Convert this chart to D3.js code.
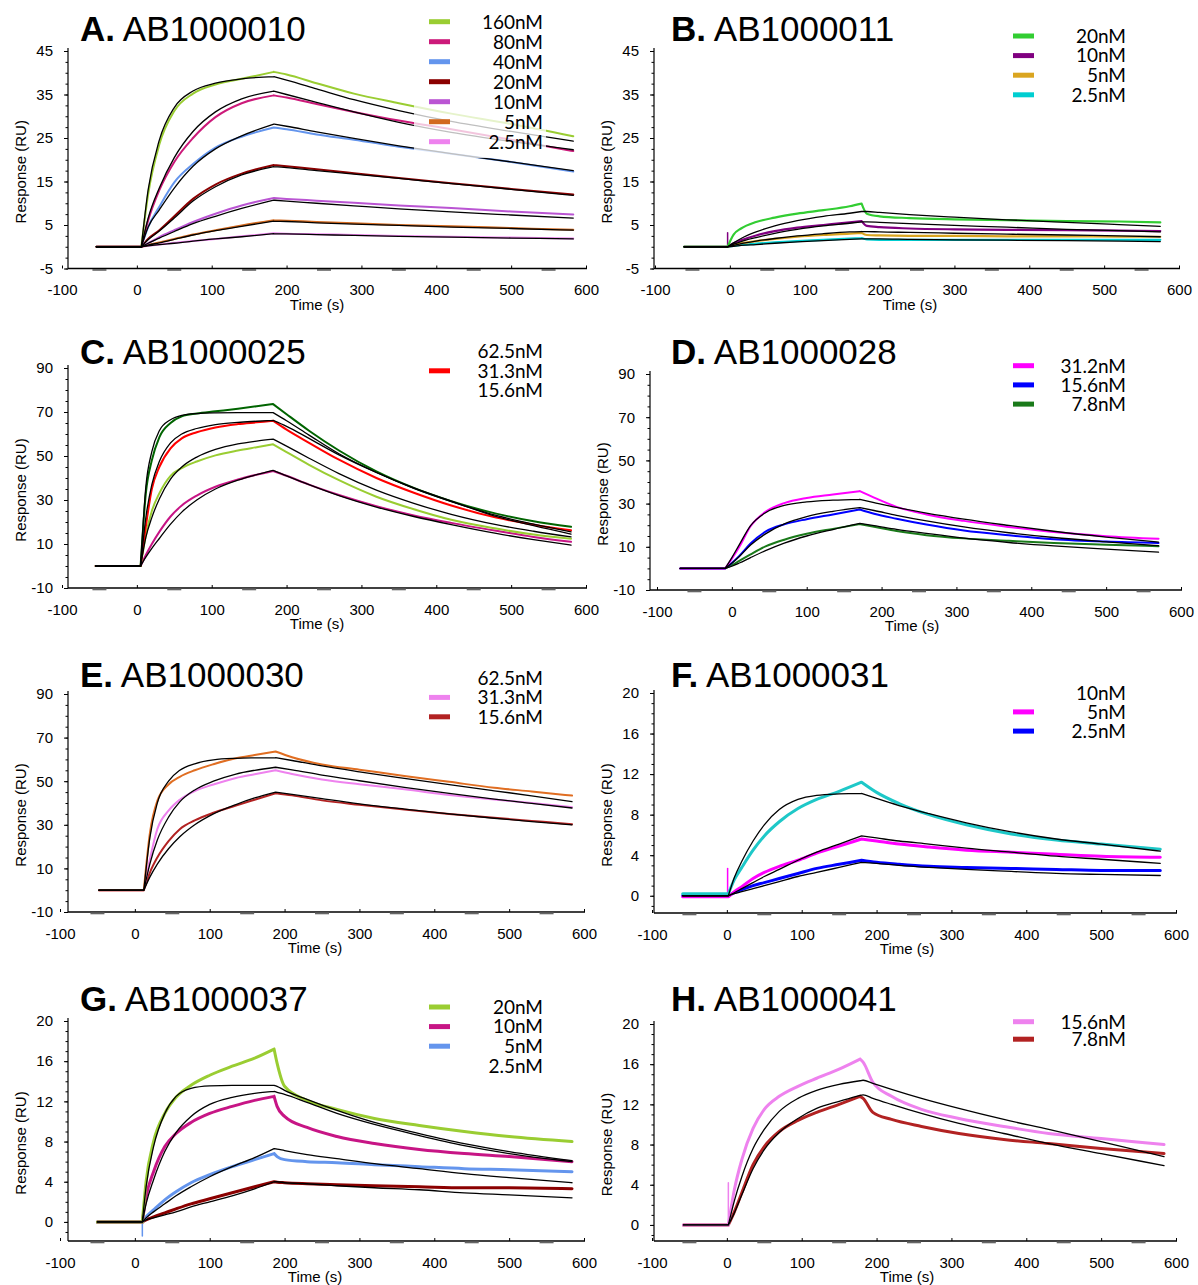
<!DOCTYPE html>
<html>
<head>
<meta charset="utf-8">
<script src="https://cdn.jsdelivr.net/npm/d3@7"></script>
<style>
  body { margin: 0; background: #fff; }
  svg { display: block; }
</style>
</head>
<body>
<svg id="chart" width="1198" height="1285"></svg>
<script>
// ---------- data ----------
var xTicks = [-100, 0, 100, 200, 300, 400, 500, 600];
var yTicks45 = [-5, 5, 15, 25, 35, 45];
var yTicks90 = [-10, 10, 30, 50, 70, 90];
var yTicks20 = [0, 4, 8, 12, 16, 20];

// A. AB1000010
var timesA = [-54, 6, 15, 30, 50, 75, 105, 140, 183, 200, 240, 290, 350, 420, 500, 583];
var a160    = [0, 0, 12, 23.5, 31.2, 35.2, 37.3, 38.6, 40.2, 39.6, 37.6, 35.2, 33.0, 30.6, 28.2, 25.4];
var a160Fit = [0, 0, 13, 24.5, 32, 35.8, 37.6, 38.6, 39.1, 38.3, 36.3, 33.8, 31.3, 28.8, 26.5, 24.3];
var a80     = [0, 0, 6, 13, 19.5, 25, 29.8, 33, 34.8, 34.3, 32.8, 31, 29, 27, 24.6, 22];
var a80Fit  = [0, 0, 6.5, 13.5, 20.5, 26.5, 31, 34, 35.8, 35, 33.2, 31, 28.6, 26.3, 24.2, 22.3];
var a40     = [0, 0, 4.5, 9.2, 14.8, 19, 22.8, 25.3, 27.4, 27, 25.8, 24.6, 23, 21.4, 19.5, 17.3];
var a40Fit  = [0, 0, 4.5, 8.5, 13.5, 18.5, 22.5, 25.5, 28.2, 27.7, 26.4, 24.9, 23.2, 21.4, 19.5, 17.5];
var a20     = [0, 0, 1.8, 3.8, 7, 11, 14.3, 16.8, 18.8, 18.5, 17.8, 16.9, 15.8, 14.6, 13.3, 12.0];
var a20Fit  = [0, 0, 1.6, 3.6, 6.6, 10.5, 13.8, 16.5, 18.4, 18.2, 17.5, 16.7, 15.7, 14.5, 13.2, 11.8];
var a10     = [0, 0, 0.8, 2.2, 3.8, 5.7, 7.6, 9.5, 11.2, 11, 10.6, 10.1, 9.5, 8.9, 8.1, 7.4];
var a10Fit  = [0, 0, 0.8, 2.0, 3.5, 5.3, 7.0, 8.8, 10.7, 10.5, 10.0, 9.4, 8.7, 8.0, 7.3, 6.6];
var a5      = [0, 0, 0.4, 1.0, 1.8, 2.8, 3.8, 4.9, 6.1, 6.0, 5.7, 5.4, 5.0, 4.7, 4.3, 3.9];
var a5Fit   = [0, 0, 0.4, 0.9, 1.7, 2.7, 3.7, 4.7, 5.9, 5.8, 5.5, 5.2, 4.9, 4.5, 4.2, 3.8];
var a2_5    = [0, 0, 0.2, 0.5, 0.9, 1.3, 1.8, 2.4, 3.1, 3.0, 2.9, 2.7, 2.5, 2.3, 2.1, 1.9];
var a2_5Fit = [0, 0, 0.2, 0.5, 0.8, 1.3, 1.8, 2.3, 3.0, 2.95, 2.8, 2.6, 2.4, 2.2, 2.0, 1.8];
var legendA = ['160nM', '80nM', '40nM', '20nM', '10nM', '5nM', '2.5nM'];

// B. AB1000011
var timesB = [-61, -3, 5, 15, 35, 60, 90, 125, 160, 176, 183, 200, 240, 300, 370, 450, 520, 575];
var b20     = [0, 0, 2.8, 4.2, 5.7, 6.7, 7.6, 8.4, 9.3, 9.9, 7.6, 7.0, 6.6, 6.3, 6.1, 5.9, 5.8, 5.6];
var b20Fit  = [0, 0, 0.9, 1.9, 3.4, 4.8, 6.0, 7.0, 7.7, 8.1, 8.1, 7.9, 7.4, 6.8, 6.2, 5.6, 5.1, 4.7];
var b10     = [0, 0, 0.8, 1.5, 2.6, 3.6, 4.4, 5.0, 5.6, 5.9, 4.8, 4.5, 4.2, 4.0, 3.9, 3.8, 3.7, 3.6];
var b10Fit  = [0, 0, 0.6, 1.2, 2.1, 3.1, 4.0, 4.8, 5.4, 5.7, 5.7, 5.6, 5.3, 4.9, 4.5, 4.0, 3.7, 3.4];
var b5      = [0, 0, 0.4, 0.8, 1.3, 1.8, 2.3, 2.7, 3.0, 3.2, 2.7, 2.6, 2.5, 2.5, 2.4, 2.4, 2.3, 2.3];
var b5Fit   = [0, 0, 0.3, 0.7, 1.3, 1.9, 2.5, 3.0, 3.4, 3.5, 3.5, 3.4, 3.3, 3.1, 2.9, 2.7, 2.5, 2.3];
var b2_5    = [0, 0, 0.2, 0.4, 0.7, 1.0, 1.3, 1.6, 1.9, 2.0, 1.7, 1.6, 1.6, 1.6, 1.6, 1.6, 1.6, 1.6];
var b2_5Fit = [0, 0, 0.1, 0.3, 0.5, 0.8, 1.1, 1.4, 1.7, 1.8, 1.8, 1.8, 1.7, 1.6, 1.5, 1.4, 1.3, 1.2];
var legendB = ['20nM', '10nM', '5nM', '2.5nM'];

// C. AB1000025
var timesC = [-55, 5, 12, 20, 30, 45, 60, 80, 105, 135, 160, 182, 200, 230, 270, 320, 370, 420, 480, 530, 580];
var c62    = [0, 0, 33, 48, 58.5, 65, 68, 69.3, 70.3, 71.5, 72.6, 73.6, 69, 61.5, 52.5, 43, 35.5, 29.5, 23.8, 20.3, 17.8];
var c62Fit = [0, 0, 36, 52, 61.5, 66.5, 68.5, 69.3, 69.6, 69.7, 69.7, 69.7, 66, 59.5, 51, 42.5, 35.3, 29.3, 23, 19, 15.5];
var c31    = [0, 0, 18, 35, 45, 53.5, 58, 60.8, 63, 64.5, 65.3, 66, 62, 56, 48.3, 40, 33.3, 27.5, 22, 18.8, 16.2];
var c31Fit = [0, 0, 22, 37, 47.5, 56, 60, 62.5, 64.3, 65.3, 65.8, 66.2, 63.5, 58, 50.5, 42.5, 35.5, 29.5, 22.5, 18.3, 14.5];
var c15    = [0, 0, 14, 25, 33, 41, 44.5, 47.5, 50.3, 52.5, 54, 55.3, 51.8, 46, 39, 31.5, 25.8, 21, 17, 14.3, 12.4];
var c15Fit = [0, 0, 13, 22, 30.5, 39.5, 45, 49.5, 53, 55.5, 56.8, 57.7, 54.5, 49, 42, 34.5, 28.5, 23.5, 18.8, 15.8, 13.2];
var c7     = [0, 0, 5, 10, 15.5, 22.5, 27.5, 32, 36, 39.3, 41.5, 43.2, 41, 37, 32.3, 27.2, 23, 19.6, 16, 13.2, 11];
var c7Fit  = [0, 0, 4, 8, 12.5, 19, 24.5, 30, 35, 39, 41.5, 43.5, 41, 37, 32, 26.8, 22.5, 18.8, 14.8, 12, 9.5];
var legendC = ['62.5nM', '31.3nM', '15.6nM'];

// D. AB1000028
var timesD = [-69, -9, 0, 10, 25, 45, 70, 100, 135, 171, 190, 220, 260, 310, 370, 430, 500, 570];
var d31    = [0, 0, 4.5, 10, 19.5, 26.2, 30.2, 32.6, 34.2, 35.8, 32.8, 28.5, 25, 22, 19.2, 16.8, 14.9, 13.7];
var d31Fit = [0, 0, 5, 11, 19.8, 25.8, 29.2, 30.8, 31.6, 32, 30.5, 28.2, 25.6, 22.8, 19.9, 17.2, 14.5, 12.2];
var d15    = [0, 0, 2.5, 5.8, 11.5, 17, 20.4, 22.8, 25, 27.3, 25.3, 23, 20.3, 17.5, 15.3, 13.5, 12.4, 11.8];
var d15Fit = [0, 0, 2.4, 5.5, 10.8, 16, 20.6, 24, 26.4, 28.1, 26.8, 24.6, 22, 19.2, 16.5, 14.3, 12.3, 10.5];
var d7     = [0, 0, 1.5, 3.5, 6.5, 10.2, 13.3, 16, 18.3, 20.5, 19.3, 17.3, 15.4, 13.9, 12.8, 11.8, 11, 10.3];
var d7Fit  = [0, 0, 1, 2.5, 5, 8.2, 11.7, 15, 18, 20.8, 19.8, 18.1, 16.2, 14, 12, 10.4, 8.9, 7.5];
var legendD = ['31.2nM', '15.6nM', '7.8nM'];

// E. AB1000030
var timesE = [-48, 12, 20, 30, 45, 60, 80, 105, 135, 160, 188, 210, 250, 300, 360, 420, 480, 530, 584];
var e62    = [0, 0, 26, 41, 48.5, 52, 55, 57.8, 60.5, 62, 63.6, 61, 57.7, 55.3, 52.4, 49.7, 47, 45.3, 43.4];
var e62Fit = [0, 0, 24, 40, 50, 55, 58, 59.8, 60.5, 60.7, 60.8, 59.5, 57, 54.3, 51.3, 48.4, 45.6, 43.3, 40.6];
var e31    = [0, 0, 14, 28, 36.5, 41.5, 45.5, 48.5, 51.5, 53.2, 55, 53.3, 50.8, 48.6, 46.3, 43.7, 41.6, 40, 38.1];
var e31Fit = [0, 0, 12, 23, 33.5, 40.5, 46, 50, 53.3, 55, 56.4, 55.2, 52.8, 50.2, 47.2, 44.4, 41.8, 39.8, 37.7];
var e15    = [0, 0, 8, 15, 22.5, 28, 32, 35.5, 38.8, 41.5, 44.5, 43.5, 41.2, 39.2, 37, 35, 33.2, 31.8, 30.3];
var e15Fit = [0, 0, 6, 12, 19, 24.5, 30, 35, 39.3, 42.3, 45, 44, 42, 39.6, 37.2, 35, 33, 31.5, 30];
var legendE = ['62.5nM', '31.3nM', '15.6nM'];

// F. AB1000031
var timesF = [-59, 2, 10, 20, 35, 50, 70, 95, 120, 150, 180, 200, 230, 270, 320, 380, 440, 500, 579];
var f10     = [0.2, 0.2, 1.6, 2.8, 4.5, 5.9, 7.3, 8.6, 9.5, 10.3, 11.2, 10.2, 9.1, 8.0, 7.0, 6.1, 5.5, 5.1, 4.6];
var f10Fit  = [0, 0, 1.8, 3.4, 5.4, 7.0, 8.5, 9.5, 9.9, 10.05, 10.1, 9.6, 8.9, 8.1, 7.2, 6.3, 5.6, 5.1, 4.4];
var f5      = [-0.1, -0.1, 0.4, 0.9, 1.7, 2.3, 2.9, 3.5, 4.2, 4.9, 5.6, 5.4, 5.1, 4.8, 4.5, 4.3, 4.1, 3.9, 3.8];
var f5Fit   = [0, 0, 0.3, 0.7, 1.3, 1.9, 2.6, 3.5, 4.3, 5.1, 5.9, 5.7, 5.4, 5.1, 4.7, 4.3, 3.9, 3.6, 3.2];
var f2_5    = [0, 0, 0.3, 0.6, 1.0, 1.3, 1.7, 2.2, 2.7, 3.1, 3.5, 3.3, 3.1, 2.9, 2.8, 2.7, 2.6, 2.5, 2.5];
var f2_5Fit = [0, 0, 0.2, 0.4, 0.7, 1.0, 1.4, 1.9, 2.3, 2.8, 3.3, 3.2, 3.0, 2.8, 2.6, 2.4, 2.2, 2.1, 2.0];
var legendF = ['10nM', '5nM', '2.5nM'];

// G. AB1000037
var timesG = [-50, 10, 15, 25, 40, 55, 75, 100, 130, 160, 186, 190, 200, 230, 270, 320, 380, 440, 500, 584];
var g20     = [0, 0, 4, 8, 10.8, 12.4, 13.6, 14.6, 15.5, 16.3, 17.2, 15.8, 13.5, 12.1, 11.2, 10.3, 9.6, 9.0, 8.5, 8.0];
var g20Fit  = [0, 0, 3.5, 7.5, 10.8, 12.5, 13.3, 13.55, 13.6, 13.6, 13.6, 13.5, 13.1, 12.2, 11.1, 9.9, 8.8, 7.8, 7.0, 6.1];
var g10     = [0, 0, 2.5, 5, 7.5, 8.8, 9.9, 10.8, 11.5, 12.1, 12.5, 11.5, 10.5, 9.4, 8.5, 7.8, 7.2, 6.8, 6.5, 6.0];
var g10Fit  = [0, 0, 1.8, 4.2, 7, 8.9, 10.5, 11.7, 12.4, 12.8, 13.0, 12.9, 12.7, 11.9, 10.8, 9.7, 8.6, 7.6, 6.8, 6.0];
var g5      = [0, 0, 0.5, 1.2, 2.2, 3.0, 3.9, 4.7, 5.5, 6.2, 6.8, 6.5, 6.2, 6.0, 5.9, 5.7, 5.5, 5.3, 5.2, 5.0];
var g5Fit   = [0, 0, 0.4, 1.0, 1.8, 2.6, 3.5, 4.5, 5.5, 6.4, 7.3, 7.25, 7.1, 6.7, 6.3, 5.8, 5.3, 4.8, 4.4, 3.9];
var g2_5    = [0, 0, 0.2, 0.5, 0.9, 1.3, 1.8, 2.3, 2.9, 3.5, 4.0, 3.95, 3.9, 3.8, 3.7, 3.6, 3.5, 3.4, 3.4, 3.3];
var g2_5Fit = [0, 0, 0.2, 0.4, 0.7, 1.0, 1.5, 2.0, 2.6, 3.3, 4.0, 4.0, 3.9, 3.8, 3.6, 3.4, 3.2, 2.9, 2.7, 2.4];
var legendG = ['20nM', '10nM', '5nM', '2.5nM'];

// H. AB1000041
var timesH = [-58, 2, 10, 20, 35, 50, 70, 95, 120, 150, 178, 182, 195, 220, 260, 310, 370, 430, 500, 584];
var h15    = [0, 0, 3.5, 6.5, 9.6, 11.5, 12.8, 13.8, 14.6, 15.5, 16.5, 16.2, 14.2, 12.8, 11.5, 10.6, 9.8, 9.1, 8.6, 8.0];
var h15Fit = [0, 0, 2.4, 4.8, 7.6, 9.5, 11.3, 12.6, 13.4, 14.0, 14.35, 14.4, 14.1, 13.5, 12.6, 11.6, 10.5, 9.5, 8.3, 6.8];
var h7     = [0, 0, 1.3, 3.2, 6.0, 7.8, 9.3, 10.4, 11.2, 12.0, 12.8, 12.6, 11.2, 10.5, 9.8, 9.1, 8.5, 8.1, 7.6, 7.1];
var h7Fit  = [0, 0, 1.2, 3.0, 5.6, 7.5, 9.2, 10.6, 11.6, 12.3, 12.9, 12.95, 12.6, 12.0, 11.1, 10.1, 9.1, 8.1, 7.1, 5.9];
var legendH = ['15.6nM', '7.8nM'];

// injection spikes: [time, response, series index]
var spikesB = [[-3, 3.2, 1]];
var spikesF = [[1, 2.7, 1]];
var spikesG = [[10, -1.4, 2]];
var spikesH = [[2, 4.2, 0]];

// ---------- panels ----------
var left = { axisX: 68, titleX: 80, legRight: 543, swatchX: 429 };
var right = { axisX: 654, titleX: 671, legRight: 1126, swatchX: 1013 };

var panels = [
  { letter: 'A', name: 'AB1000010', times: timesA, peak: 183, yDomain: [-5, 45], yTicks: yTicks45, minor: 2.5,
    side: left, x0: 62, x1: 586, yBottom: 268.5, yTop: 51, titleY: 41, legTop: 21.7, legStep: 20, fade: true, dataWidth: 2,
    series: [[a160, a160Fit, '#9ACD32'], [a80, a80Fit, '#CC1A7A'], [a40, a40Fit, '#6495ED'], [a20, a20Fit, '#8B0000'],
             [a10, a10Fit, '#BA55D3'], [a5, a5Fit, '#D2691E'], [a2_5, a2_5Fit, '#EE82EE']],
    legend: legendA, swatches: [0, 1, 2, 3, 4, 5, 6], spikes: [] },
  { letter: 'B', name: 'AB1000011', times: timesB, peak: 176, yDomain: [-5, 45], yTicks: yTicks45, minor: 2.5,
    side: right, x0: 655, x1: 1179, yBottom: 268.5, yTop: 51, titleY: 41, legTop: 36, legStep: 19.6, dataWidth: 2.2,
    series: [[b20, b20Fit, '#32CD32'], [b10, b10Fit, '#800080'], [b5, b5Fit, '#DAA520'], [b2_5, b2_5Fit, '#00CED1']],
    legend: legendB, swatches: [0, 1, 2, 3], spikes: spikesB },
  { letter: 'C', name: 'AB1000025', times: timesC, peak: 182, yDomain: [-10, 90], yTicks: yTicks90, minor: 5,
    side: left, x0: 62, x1: 586, yBottom: 588, yTop: 368, titleY: 364, legTop: 351.5, legStep: 19.3, dataWidth: 2,
    series: [[c62, c62Fit, '#006400'], [c31, c31Fit, '#FF0000'], [c15, c15Fit, '#9ACD32'], [c7, c7Fit, '#C71585']],
    legend: legendC, swatches: [null, 1, null], spikes: [] },
  { letter: 'D', name: 'AB1000028', times: timesD, peak: 171, yDomain: [-10, 90], yTicks: yTicks90, minor: 5,
    side: right, x0: 657, x1: 1181, yBottom: 590, yTop: 374, titleY: 364, legTop: 365.7, legStep: 19.2, dataWidth: 2,
    series: [[d31, d31Fit, '#FF00FF'], [d15, d15Fit, '#0000FF'], [d7, d7Fit, '#1A7A1A']],
    legend: legendD, swatches: [0, 1, 2], spikes: [], axisX: 650 },
  { letter: 'E', name: 'AB1000030', times: timesE, peak: 188, yDomain: [-10, 90], yTicks: yTicks90, minor: 5,
    side: left, x0: 60, x1: 584, yBottom: 912, yTop: 694, titleY: 687, legTop: 678, legStep: 19.4, dataWidth: 2,
    series: [[e62, e62Fit, '#E06E22'], [e31, e31Fit, '#EE82EE'], [e15, e15Fit, '#B22222']],
    legend: legendE, swatches: [null, 1, 2], spikes: [] },
  { letter: 'F', name: 'AB1000031', times: timesF, peak: 180, yDomain: [-1.7, 20], yTicks: yTicks20, minor: 1,
    side: right, x0: 652, x1: 1176, yBottom: 913, yTop: 693, titleY: 687, legTop: 692.7, legStep: 19.2, dataWidth: 3,
    series: [[f10, f10Fit, '#1EC8C8'], [f5, f5Fit, '#FF00FF'], [f2_5, f2_5Fit, '#0000FF']],
    legend: legendF, swatches: [null, 1, 2], spikes: spikesF },
  { letter: 'G', name: 'AB1000037', times: timesG, peak: 186, yDomain: [-1.9, 20], yTicks: yTicks20, minor: 1,
    side: left, x0: 60, x1: 584, yBottom: 1241, yTop: 1021, titleY: 1011, legTop: 1007, legStep: 19.6, dataWidth: 3,
    series: [[g20, g20Fit, '#9ACD32'], [g10, g10Fit, '#C71585'], [g5, g5Fit, '#6495ED'], [g2_5, g2_5Fit, '#8B0000']],
    legend: legendG, swatches: [0, 1, 2, null], spikes: spikesG },
  { letter: 'H', name: 'AB1000041', times: timesH, peak: 178, yDomain: [-1.6, 20], yTicks: yTicks20, minor: 1,
    side: right, x0: 652, x1: 1176, yBottom: 1241, yTop: 1024, titleY: 1011, legTop: 1021.7, legStep: 17.5, dataWidth: 3,
    series: [[h15, h15Fit, '#EE82EE'], [h7, h7Fit, '#B22222']],
    legend: legendH, swatches: [0, 1], spikes: spikesH }
];

var svg = d3.select('#chart');
var arial = '"Liberation Sans", Arial, sans-serif';
var plain = function (d) { return String(d); };   // keep the hyphen minus of the original

panels.forEach(function (p) {
  var s = p.side;
  var axisX = p.axisX || s.axisX;
  var x = d3.scaleLinear().domain([-100, 600]).range([p.x0, p.x1]);
  var y = d3.scaleLinear().domain(p.yDomain).range([p.yBottom, p.yTop]);
  var g = svg.append('g');

  // title
  var title = g.append('text')
    .attr('x', s.titleX).attr('y', p.titleY)
    .attr('font-family', arial).attr('font-size', 35);
  title.append('tspan').attr('font-weight', 'bold').text(p.letter + '.');
  title.append('tspan').text(' ' + p.name);

  // y axis
  var yMax = p.yTicks[p.yTicks.length - 1];
  var yAxisG = g.append('g').attr('transform', 'translate(' + axisX + ',0)');
  yAxisG.call(d3.axisLeft(y).tickValues(d3.range(Math.ceil(p.yDomain[0] / p.minor) * p.minor, yMax + 0.01, p.minor))
      .tickSize(2.5).tickFormat(''))
    .call(function (a) { a.select('.domain').remove(); });
  var yLab = g.append('g').attr('transform', 'translate(' + axisX + ',0)')
    .call(d3.axisLeft(y).tickValues(p.yTicks).tickFormat(plain).tickSize(4).tickPadding(11).tickSizeOuter(0));
  yLab.select('.domain').attr('d', 'M0,' + y(p.yDomain[0]) + 'V' + (y(yMax) - 3)).attr('stroke-width', 1.2);
  yLab.selectAll('text').attr('font-family', arial).attr('font-size', 15);

  // x axis
  var axisY = p.yBottom;
  var xAxisG = g.append('g').attr('transform', 'translate(0,' + axisY + ')')
    .call(d3.axisBottom(x).tickValues(xTicks).tickFormat(plain).tickSize(-3).tickPadding(16));
  xAxisG.select('.domain').remove();
  xAxisG.selectAll('text').attr('font-family', arial).attr('font-size', 15);
  g.append('line')
    .attr('x1', axisX).attr('x2', x(600) + 1)
    .attr('y1', axisY).attr('y2', axisY)
    .attr('stroke', '#000').attr('stroke-width', 1.3);
  g.selectAll('.dash').data(d3.range(-50, 600, 100)).enter().append('rect')
    .attr('x', function (d) { return x(d) - 7; }).attr('y', axisY + 0.5)
    .attr('width', 14).attr('height', 1.8).attr('fill', '#666');

  // axis titles
  var xMid = (x(-100) + x(600)) / 2 - 7;
  g.append('text').attr('x', xMid).attr('y', axisY + 41)
    .attr('text-anchor', 'middle').attr('font-family', arial).attr('font-size', 15)
    .text('Time (s)');
  var yMid = (y(p.yDomain[0]) + y(yMax)) / 2 + 12;
  g.append('text')
    .attr('transform', 'translate(' + (axisX - 47) + ',' + yMid + ') rotate(-90)')
    .attr('text-anchor', 'middle').attr('dy', '0.35em')
    .attr('font-family', arial).attr('font-size', 15)
    .text('Response (RU)');

  // curves: baseline straight, association and dissociation smooth
  var peakIdx = p.times.indexOf(p.peak);
  var lineStraight = d3.line().x(function (d) { return x(d[0]); }).y(function (d) { return y(d[1]); });
  var lineSmooth = d3.line().x(function (d) { return x(d[0]); }).y(function (d) { return y(d[1]); })
    .curve(d3.curveMonotoneX);
  function pathFor(values) {
    var pts = p.times.map(function (t, i) { return [t, values[i]]; });
    return lineStraight(pts.slice(0, 2)) +
      lineSmooth(pts.slice(1, peakIdx + 1)) +
      lineSmooth(pts.slice(peakIdx));
  }

  var curves = g.append('g').attr('fill', 'none').attr('stroke-linejoin', 'round').attr('stroke-linecap', 'round');
  p.spikes.forEach(function (sp) {
    curves.append('line')
      .attr('x1', x(sp[0])).attr('x2', x(sp[0]))
      .attr('y1', y(0)).attr('y2', y(sp[1]))
      .attr('stroke', p.series[sp[2]][2]).attr('stroke-width', 1.5);
  });
  p.series.slice().reverse().forEach(function (se) {
    curves.append('path').attr('d', pathFor(se[0]))
      .attr('stroke', se[2]).attr('stroke-width', p.dataWidth);
  });
  p.series.forEach(function (se) {
    curves.append('path').attr('d', pathFor(se[1]))
      .attr('stroke', '#000').attr('stroke-width', 1.3);
  });

  // legend
  var legG = g.append('g');
  if (p.fade) {
    legG.append('rect').attr('x', 414).attr('y', 8).attr('width', 132).attr('height', 150)
      .attr('fill', '#fff').attr('opacity', 0.75);
  }
  p.legend.forEach(function (lab, i) {
    var cy = p.legTop + i * p.legStep;
    var si = p.swatches[i];
    if (si !== null) {
      legG.append('rect').attr('x', s.swatchX).attr('y', cy - 2.5)
        .attr('width', 21).attr('height', 5).attr('fill', p.series[si][2]);
    }
    legG.append('text').attr('x', s.legRight).attr('y', cy).attr('dy', '0.36em')
      .attr('text-anchor', 'end').attr('font-family', 'Lato, "Open Sans", sans-serif').attr('font-size', 19)
      .text(lab);
  });
});
</script>
</body>
</html>
